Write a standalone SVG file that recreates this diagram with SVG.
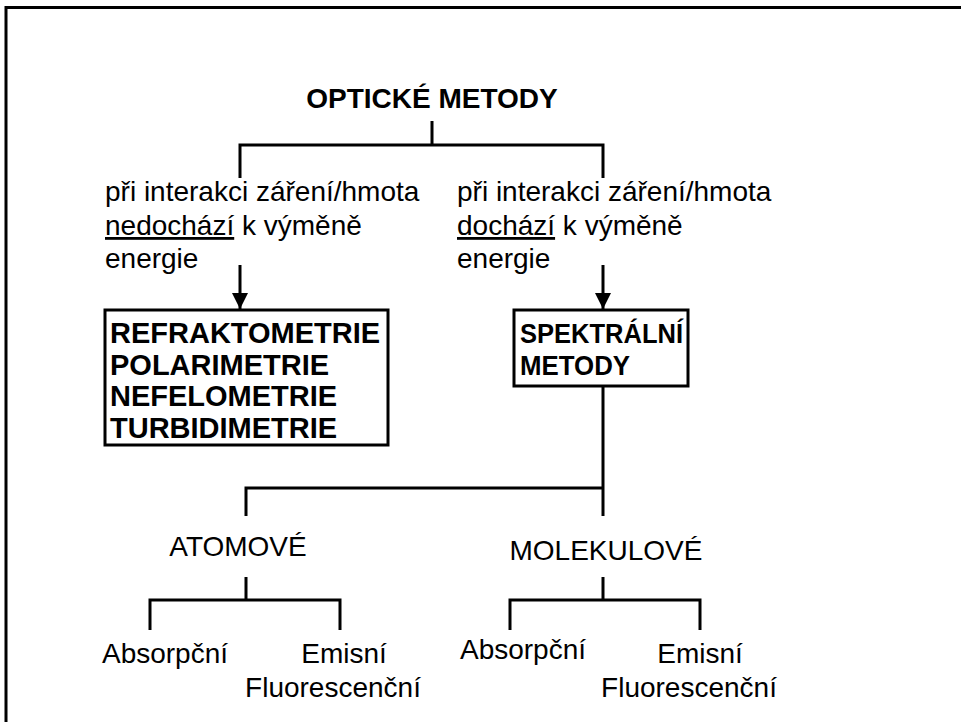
<svg xmlns="http://www.w3.org/2000/svg" width="961" height="722" viewBox="0 0 961 722">
  <style>
    text { font-family: "Liberation Sans", Arial, sans-serif; fill: #000; }
    .title { font-size: 28px; font-weight: bold; }
    .note { font-size: 28px; }
    .box { fill: #fff; stroke: #000; stroke-width: 3; }
    .bold { font-size: 29px; font-weight: bold; }
    .bold-sm { font-size: 27px; font-weight: bold; }
    .label { font-size: 28px; }
    .wire { fill: none; stroke: #000; stroke-width: 3; }
    .u { text-decoration: underline; }
  </style>
  <defs>
    <marker id="arrow" viewBox="0 0 10 10" refX="10" refY="5" markerWidth="5.5" markerHeight="5.5" markerUnits="strokeWidth" orient="auto">
      <path d="M0,0 L10,5 L0,10 z" fill="#000"/>
    </marker>
  </defs>

  <!-- outer frame (top and left edges) -->
  <path d="M6,722 V7.5 H961" fill="none" stroke="#000" stroke-width="3"/>

  <g id="connectors">
    <path class="wire" d="M432,121 V145 M240,178 V145 H603 V178"/>
    <path class="wire" d="M240,265 V309" marker-end="url(#arrow)"/>
    <path class="wire" d="M603,265 V309" marker-end="url(#arrow)"/>
    <path class="wire" d="M603,387 V488 M246,516 V488 H603 V516"/>
    <path class="wire" d="M246,577 V600 M150,630 V600 H340 V630"/>
    <path class="wire" d="M603,577 V600 M510,630 V600 H700 V630"/>
  </g>

  <g id="optical-methods">
    <text class="title" x="432" y="108" text-anchor="middle">OPTICKÉ METODY</text>
  </g>

  <g id="no-energy-exchange">
    <text class="note" x="105" y="201">při interakci záření/hmota</text>
    <text class="note" x="105" y="235"><tspan class="u">nedochází</tspan> k výměně</text>
    <text class="note" x="105" y="268">energie</text>
  </g>

  <g id="energy-exchange">
    <text class="note" x="457" y="201">při interakci záření/hmota</text>
    <text class="note" x="457" y="235"><tspan class="u">dochází</tspan> k výměně</text>
    <text class="note" x="457" y="268">energie</text>
  </g>

  <g id="non-spectral-methods">
    <rect class="box" x="105" y="310" width="283" height="135"/>
    <text class="bold" x="110" y="343">REFRAKTOMETRIE</text>
    <text class="bold" x="110" y="375">POLARIMETRIE</text>
    <text class="bold" x="110" y="406">NEFELOMETRIE</text>
    <text class="bold" x="110" y="438">TURBIDIMETRIE</text>
  </g>

  <g id="spectral-methods">
    <rect class="box" x="514" y="310" width="174" height="76"/>
    <text class="bold-sm" x="520" y="343" textLength="163" lengthAdjust="spacingAndGlyphs">SPEKTRÁLNÍ</text>
    <text class="bold-sm" x="520" y="375" textLength="110" lengthAdjust="spacingAndGlyphs">METODY</text>
  </g>

  <g id="atomic">
    <text class="label" x="238" y="556" text-anchor="middle">ATOMOVÉ</text>
  </g>
  <g id="molecular">
    <text class="label" x="606" y="560" text-anchor="middle">MOLEKULOVÉ</text>
  </g>

  <g id="atomic-absorption">
    <text class="label" x="165" y="663" text-anchor="middle">Absorpční</text>
  </g>
  <g id="atomic-emission">
    <text class="label" x="344" y="663" text-anchor="middle">Emisní</text>
    <text class="label" x="333" y="697" text-anchor="middle">Fluorescenční</text>
  </g>
  <g id="molecular-absorption">
    <text class="label" x="523" y="659" text-anchor="middle">Absorpční</text>
  </g>
  <g id="molecular-emission">
    <text class="label" x="700" y="663" text-anchor="middle">Emisní</text>
    <text class="label" x="689" y="697" text-anchor="middle">Fluorescenční</text>
  </g>
</svg>
